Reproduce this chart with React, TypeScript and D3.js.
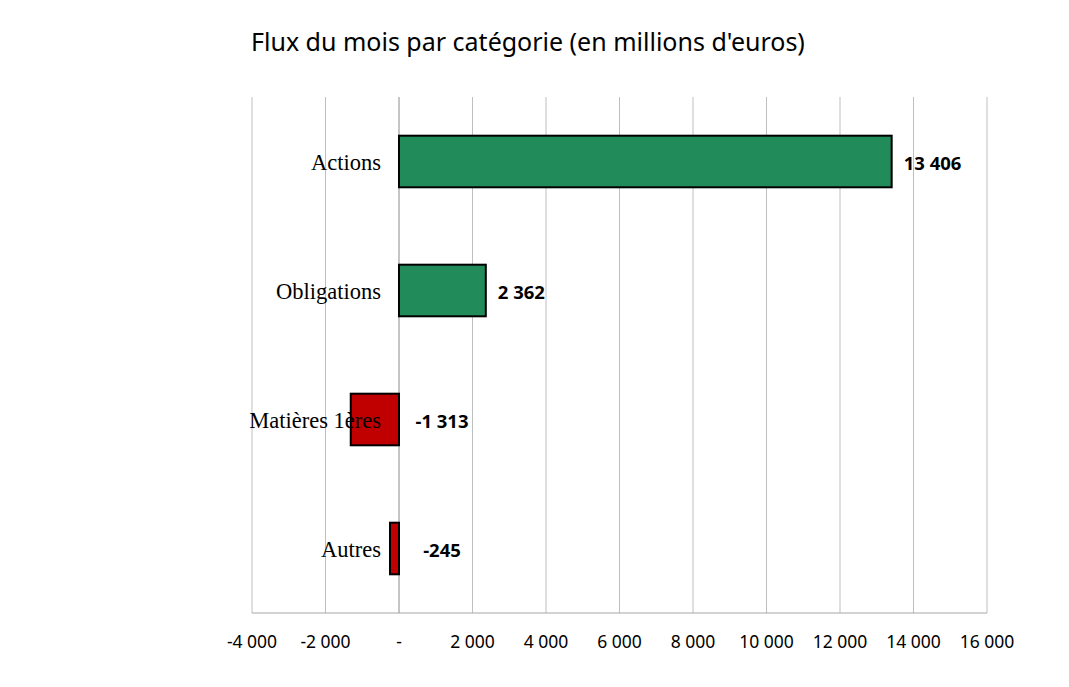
import React, { useEffect, useRef } from 'react';
import * as d3 from 'd3';

const categories = ['Actions', 'Obligations', 'Matières 1ères', 'Autres'];
const values = [13406, 2362, -1313, -245];
const xTicks = [-4000, -2000, 0, 2000, 4000, 6000, 8000, 10000, 12000, 14000, 16000];
const title = "Flux du mois par catégorie (en millions d'euros)";

// Excel-like number format: space as thousands separator, hyphen minus, "-" for zero
const fmt = (v: number) => {
  if (v === 0) return '-';
  const s = d3.format(',')(Math.abs(v)).replace(/,/g, ' ');
  return v < 0 ? '-' + s : s;
};

const App: React.FC = () => {
  const ref = useRef<SVGSVGElement | null>(null);

  useEffect(() => {
    if (!ref.current) return;
    const svg = d3.select(ref.current);
    svg.selectAll('*').remove();

    const left = 252;
    const right = 987;
    const top = 97;
    const bottom = 613;

    const x = d3.scaleLinear().domain([-4000, 16000]).range([left, right]);
    const y = d3
      .scaleBand<string>()
      .domain(categories)
      .range([top, bottom])
      .paddingInner(0.6)
      .paddingOuter(0.3);

    // title
    svg
      .append('text')
      .attr('x', 251)
      .attr('y', 51)
      .attr('font-family', "'Noto Sans', sans-serif")
      .attr('font-size', 25)
      .attr('fill', '#000')
      .text(title);

    // gridlines
    svg
      .append('g')
      .selectAll('line')
      .data(xTicks)
      .enter()
      .append('line')
      .attr('x1', (d) => x(d))
      .attr('x2', (d) => x(d))
      .attr('y1', top)
      .attr('y2', bottom)
      .attr('stroke', (d) => (d === 0 ? '#8c8c8c' : '#bfbfbf'))
      .attr('stroke-width', 1);

    // bottom axis line
    svg
      .append('line')
      .attr('x1', left)
      .attr('x2', right)
      .attr('y1', bottom)
      .attr('y2', bottom)
      .attr('stroke', '#a6a6a6')
      .attr('stroke-width', 1);

    // tick labels
    svg
      .append('g')
      .selectAll('text')
      .data(xTicks)
      .enter()
      .append('text')
      .attr('x', (d) => x(d))
      .attr('y', 648)
      .attr('text-anchor', 'middle')
      .attr('font-family', "'Noto Sans', sans-serif")
      .attr('font-size', 17.5)
      .attr('fill', '#000')
      .text((d) => fmt(d));

    const data = categories.map((c, i) => ({ cat: c, value: values[i] }));

    // bars
    svg
      .append('g')
      .selectAll('rect')
      .data(data)
      .enter()
      .append('rect')
      .attr('x', (d) => x(Math.min(0, d.value)))
      .attr('y', (d) => y(d.cat) as number)
      .attr('width', (d) => Math.abs(x(d.value) - x(0)))
      .attr('height', y.bandwidth())
      .attr('fill', (d) => (d.value >= 0 ? '#228B5A' : '#C00000'))
      .attr('stroke', '#000')
      .attr('stroke-width', 2);

    // category labels (on top of bars, like the original)
    svg
      .append('g')
      .selectAll('text')
      .data(data)
      .enter()
      .append('text')
      .attr('x', 381)
      .attr('y', (d) => (y(d.cat) as number) + y.bandwidth() / 2 + 8)
      .attr('text-anchor', 'end')
      .attr('font-family', "'Liberation Serif', serif")
      .attr('font-size', 22.5)
      .attr('fill', '#000')
      .text((d) => d.cat);

    // value labels
    svg
      .append('g')
      .selectAll('text')
      .data(data)
      .enter()
      .append('text')
      .attr('x', (d) => (d.value >= 0 ? x(d.value) + 12 : x(0) + 43))
      .attr('y', (d) => (y(d.cat) as number) + y.bandwidth() / 2 + 8)
      .attr('text-anchor', (d) => (d.value >= 0 ? 'start' : 'middle'))
      .attr('font-family', "'Noto Sans', sans-serif")
      .attr('font-weight', 'bold')
      .attr('font-size', 18.5)
      .attr('fill', '#000')
      .text((d) => fmt(d.value));
  }, []);

  return (
    <svg
      ref={ref}
      width={1069}
      height={687}
      style={{ position: 'absolute', left: 0, top: 0, background: '#fff' }}
    ></svg>
  );
};

export default App;
